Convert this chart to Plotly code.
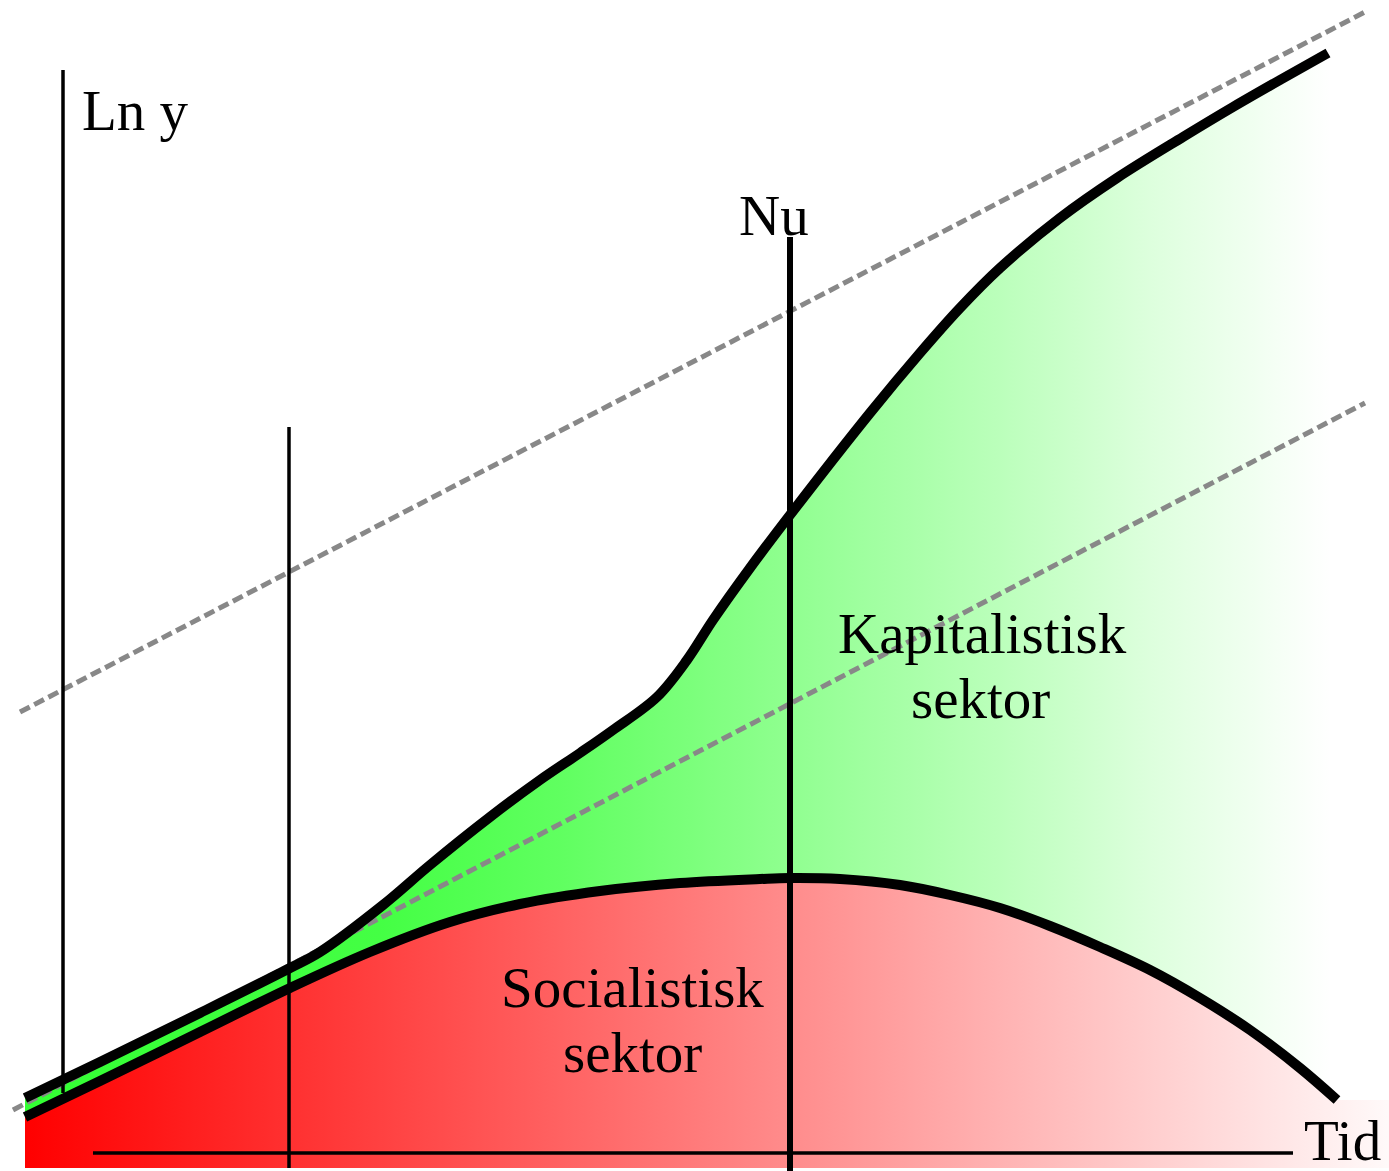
import plotly.graph_objects as go

# time axis and ln y values
kap_t = [25, 100, 200, 290, 320, 383, 430, 490, 540, 580, 613, 657, 687, 713,
         750, 790, 870, 920, 960, 1000, 1060, 1117, 1183, 1233, 1280, 1328]
kap_y = [73, 109, 158, 203, 219, 266, 306, 354, 391, 418, 441, 474, 511, 551,
         603, 656, 758, 818, 863, 903, 953, 993, 1034, 1064, 1091, 1118]

soc_t = [25, 100, 200, 290, 370, 450, 520, 600, 680, 760, 790, 840, 900, 950,
         1000, 1050, 1100, 1150, 1200, 1250, 1300, 1337]
soc_y = [54, 90, 139, 183, 219, 249, 267, 280, 288, 292, 293, 292, 286, 276,
         263, 245, 224, 201, 173, 141, 103, 71]

# dashed trend lines (start, end)
trend_hi_t = [20, 1365]
trend_hi_y = [459, 1159]
trend_lo_t = [13, 1365]
trend_lo_y = [61, 768]

# reference lines
yaxis_t, yaxis_y = [63, 63], [78, 1101]
mid_t, mid_y = [289, 289], [3, 744]
nu_t, nu_y = [790, 790], [0, 934]
time_t, time_y = [93, 1293], [18, 18]

t_max, y_max = 1389, 1171
y_floor = 3

labels = ["Ln y", "Nu", "Kapitalistisk", "sektor", "Socialistisk", "sektor", "Tid"]
label_t = [135, 774, 982, 980, 632, 632, 1342]
label_y = [1061, 956, 538, 473, 184, 119, 31]

fig = go.Figure()

# red area under the socialist curve
fig.add_trace(go.Scatter(
    x=soc_t + [t_max, t_max, soc_t[0]],
    y=soc_y + [soc_y[-1], y_floor, y_floor],
    fill="toself", mode="none",
    fillgradient=dict(type="horizontal", start=25, stop=1420,
                      colorscale=[[0, "#ff0000"], [1, "#ffffff"]]),
    hoverinfo="skip"))

# green area between the two curves
fig.add_trace(go.Scatter(
    x=kap_t + [t_max, t_max] + soc_t[::-1],
    y=kap_y + [kap_y[-1], soc_y[-1]] + soc_y[::-1],
    fill="toself", mode="none",
    fillgradient=dict(type="horizontal", start=25, stop=1330,
                      colorscale=[[0, "#33ff33"], [0.272, "#44ff44"],
                                  [0.41, "#60ff60"], [0.586, "#90ff90"],
                                  [0.747, "#bbffbb"], [0.862, "#ddffdd"],
                                  [1, "#ffffff"]]),
    hoverinfo="skip"))

dash = dict(color="#888888", width=5, dash="11px,5px")
fig.add_trace(go.Scatter(x=trend_hi_t, y=trend_hi_y, mode="lines", line=dash, hoverinfo="skip"))
fig.add_trace(go.Scatter(x=trend_lo_t, y=trend_lo_y, mode="lines", line=dash, hoverinfo="skip"))

for tt, yy, w in [(yaxis_t, yaxis_y, 3.5), (mid_t, mid_y, 3.5), (nu_t, nu_y, 6), (time_t, time_y, 3.5)]:
    fig.add_trace(go.Scatter(x=tt, y=yy, mode="lines",
                             line=dict(color="black", width=w), hoverinfo="skip"))

fig.add_trace(go.Scatter(x=kap_t, y=kap_y, mode="lines",
                         line=dict(color="black", width=10, shape="spline", smoothing=1.0),
                         hoverinfo="skip"))
fig.add_trace(go.Scatter(x=soc_t, y=soc_y, mode="lines",
                         line=dict(color="black", width=10, shape="spline", smoothing=1.0),
                         hoverinfo="skip"))

for txt, tx, ty in zip(labels, label_t, label_y):
    fig.add_annotation(x=tx, y=ty, text=txt, showarrow=False,
                       xanchor="center", yanchor="middle",
                       font=dict(family="Liberation Serif", size=57, color="black"))

fig.update_layout(
    width=1389, height=1171,
    margin=dict(l=0, r=0, t=0, b=0),
    showlegend=False,
    plot_bgcolor="white", paper_bgcolor="white",
    xaxis=dict(range=[0, t_max], visible=False, fixedrange=True),
    yaxis=dict(range=[0, y_max], visible=False, fixedrange=True),
)

fig.write_html("out.html", config={"displayModeBar": False},
               post_script="document.body.style.margin='0';document.body.style.overflow='hidden';")
